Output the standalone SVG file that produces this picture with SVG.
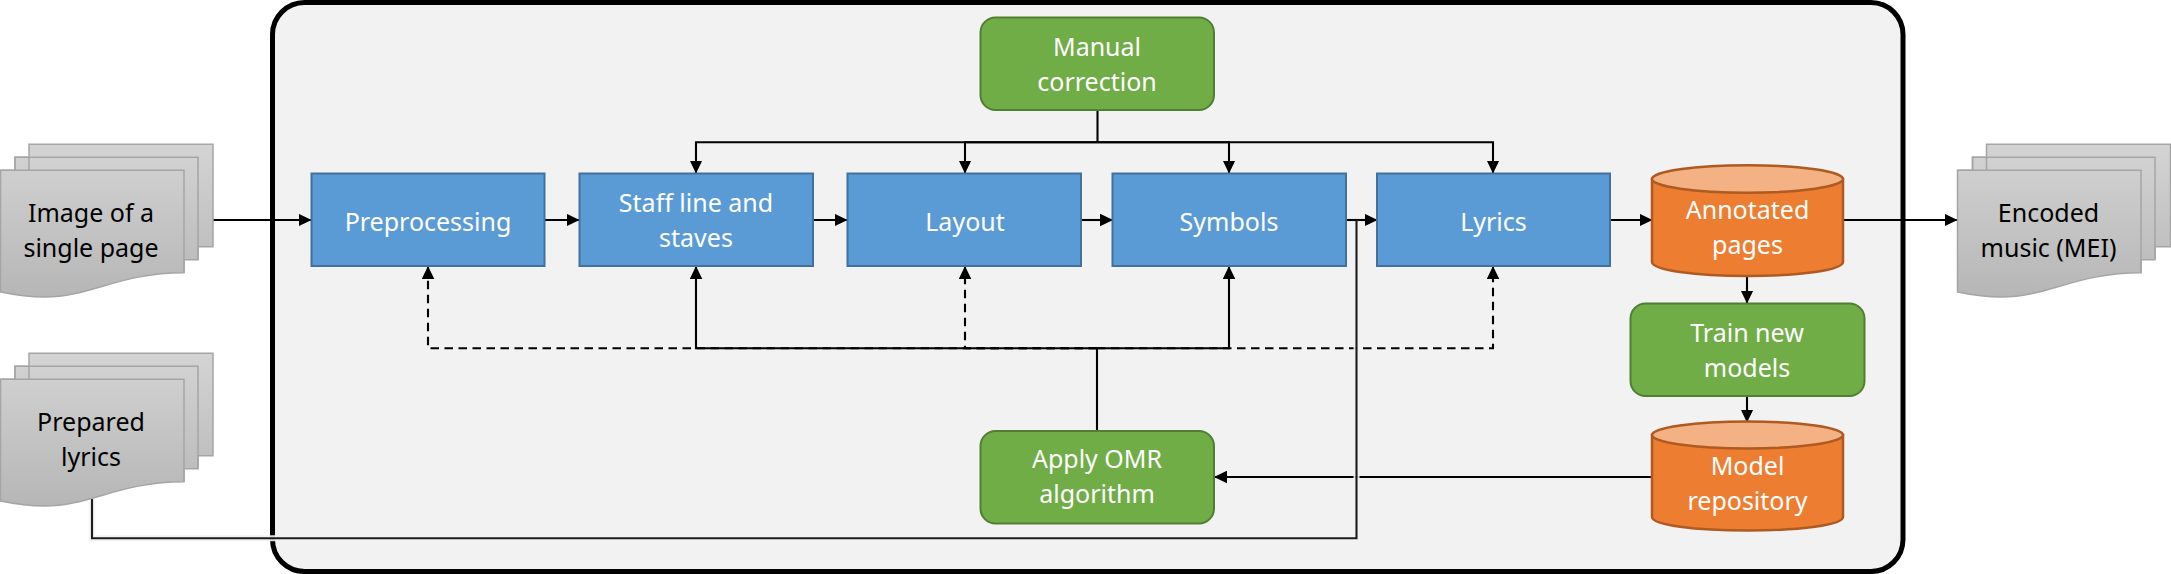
<svg xmlns="http://www.w3.org/2000/svg" width="2171" height="574" viewBox="0 0 2171 574">
<style>
text{font-family:"Noto Sans","Open Sans","Liberation Sans",sans-serif;font-size:25px;text-anchor:middle}
.w{fill:#fff}.k{fill:#000}
.proc{fill:#5b9bd5;stroke:#41719c;stroke-width:2}
.act{fill:#70ad47;stroke:#507e32;stroke-width:2}
.cyl{fill:#ed7d31;stroke:#ae5a21;stroke-width:2.5}
.cyt{fill:#f4b183;stroke:#ae5a21;stroke-width:2.5}
.doc{stroke:#a5a5a5;stroke-width:1.5}
.c{fill:none;stroke:#000;stroke-width:2.1}
.a{marker-end:url(#ah)}
.d{stroke-dasharray:8.5 5.5}
.halo{fill:none;stroke:#f2f2f2;stroke-width:6;opacity:.9}
</style>
<defs>
<marker id="ah" markerUnits="userSpaceOnUse" markerWidth="13" markerHeight="13" refX="12.5" refY="6.5" orient="auto"><path d="M0 .2L13 6.5L0 12.8z" fill="#000"/></marker>
<linearGradient id="g1" gradientUnits="userSpaceOnUse" x1="0" y1="144" x2="0" y2="297"><stop offset="0" stop-color="#d4d4d4"/><stop offset="1" stop-color="#b6b6b6"/></linearGradient>
<linearGradient id="g2" gradientUnits="userSpaceOnUse" x1="0" y1="353" x2="0" y2="506"><stop offset="0" stop-color="#d4d4d4"/><stop offset="1" stop-color="#b6b6b6"/></linearGradient>
</defs>
<g id="frame"><rect x="272.5" y="2.5" width="1630.5" height="569" rx="32" fill="#f2f2f2" stroke="#000" stroke-width="5"/></g>
<g id="connectors">
<path class="c a" d="M213 220H311"/>
<path class="c a" d="M544.5 220H579"/>
<path class="c a" d="M813 220H847"/>
<path class="c a" d="M1081 220H1112.5"/>
<path class="c a" d="M1346 220H1377"/>
<path class="c a" d="M1610 220H1652"/>
<path class="c a" d="M1843 220H1957"/>
<path class="c a" d="M1747 276V303"/>
<path class="c a" d="M1747 396V422"/>
<path class="c a" d="M1652 477H1214.5"/>
<path class="c" d="M1097.5 110V142.3"/>
<path class="c a" d="M1097.5 142.3H696V173"/>
<path class="c a" d="M1097.5 142.3H965V173"/>
<path class="c a" d="M1097.5 142.3H1229V173"/>
<path class="c a" d="M1097.5 142.3H1493V173"/>
<path class="c d a" d="M1097 348.3H428V266.5"/>
<path class="c d a" d="M1097 348.3H965V266.5"/>
<path class="c d a" d="M1097 348.3H1493V266.5"/>
<path class="c a" d="M1097 430.5V348.3H696V266.5"/>
<path class="c a" d="M1097 348.3H1229V266.5"/>
<path class="halo" d="M92 499V538.3H1356.5V226"/>
<path class="c" d="M92 499V538.3H1356.5V220" style="stroke:#1c1c1c"/>
</g>
<g id="doc-image">
<path class="doc" fill="url(#g1)" d="M29 170V144.3H213V246.7H198V259.7H184V272.7C120 272.7 90 297 45 297C28 297 15 295 .5 292V170.3H15V157.3H29z"/>
<path class="doc" fill="none" d="M15 170.3V157.3H198V259.7M.5 170.3H184V272.7"/>
<text class="k" x="91" y="222">Image of a</text><text class="k" x="91" y="257">single page</text>
</g>
<g id="doc-lyrics">
<path class="doc" fill="url(#g2)" d="M29 379V353.3H213V455.7H198V468.7H184V481.7C120 481.7 90 506 45 506C28 506 15 504 .5 501V379.3H15V366.3H29z"/>
<path class="doc" fill="none" d="M15 379.3V366.3H198V468.7M.5 379.3H184V481.7"/>
<text class="k" x="91" y="431">Prepared</text><text class="k" x="91" y="466">lyrics</text>
</g>
<g id="doc-encoded">
<path class="doc" fill="url(#g1)" d="M1986.5 170V144.3H2170.5V246.7H2155V259.7H2141V272.7C2077 272.7 2047 297 2002 297C1985 297 1972 295 1957.5 292V170.3H1972.5V157.3H1986.5z"/>
<path class="doc" fill="none" d="M1972.5 170.3V157.3H2155V259.7M1957.5 170.3H2141V272.7"/>
<text class="k" x="2048.5" y="222">Encoded</text><text class="k" x="2048.5" y="257">music (MEI)</text>
</g>
<g id="preprocessing"><rect class="proc" x="311.5" y="173.5" width="233" height="92.5"/><text class="w" x="428" y="231">Preprocessing</text></g>
<g id="staff"><rect class="proc" x="579.5" y="173.5" width="233.5" height="92.5"/><text class="w" x="696" y="212">Staff line and</text><text class="w" x="696" y="247">staves</text></g>
<g id="layout"><rect class="proc" x="847.5" y="173.5" width="233.5" height="92.5"/><text class="w" x="965" y="231">Layout</text></g>
<g id="symbols"><rect class="proc" x="1112.5" y="173.5" width="233.5" height="92.5"/><text class="w" x="1229" y="231">Symbols</text></g>
<g id="lyrics"><rect class="proc" x="1377" y="173.5" width="233" height="92.5"/><text class="w" x="1493.5" y="231">Lyrics</text></g>
<g id="manual"><rect class="act" x="980.5" y="17.5" width="233.5" height="92.5" rx="15"/><text class="w" x="1097" y="56">Manual</text><text class="w" x="1097" y="91">correction</text></g>
<g id="apply"><rect class="act" x="980.5" y="431" width="233.5" height="92.5" rx="15"/><text class="w" x="1097" y="468">Apply OMR</text><text class="w" x="1097" y="503">algorithm</text></g>
<g id="train"><rect class="act" x="1630.5" y="303.5" width="234" height="92.5" rx="15"/><text class="w" x="1747" y="342">Train new</text><text class="w" x="1747" y="377">models</text></g>
<g id="annotated"><path class="cyl" d="M1652 179V262C1652 270 1695 276 1747.5 276S1843 270 1843 262V179z"/><ellipse class="cyt" cx="1747.5" cy="179" rx="95.5" ry="13.7"/><text class="w" x="1747.5" y="219">Annotated</text><text class="w" x="1747.5" y="254">pages</text></g>
<g id="repository"><path class="cyl" d="M1652 435V517C1652 525 1695 530.5 1747.5 530.5S1843 525 1843 517V435z"/><ellipse class="cyt" cx="1747.5" cy="435" rx="95.5" ry="13.5"/><text class="w" x="1747.5" y="475">Model</text><text class="w" x="1747.5" y="510">repository</text></g>
</svg>
